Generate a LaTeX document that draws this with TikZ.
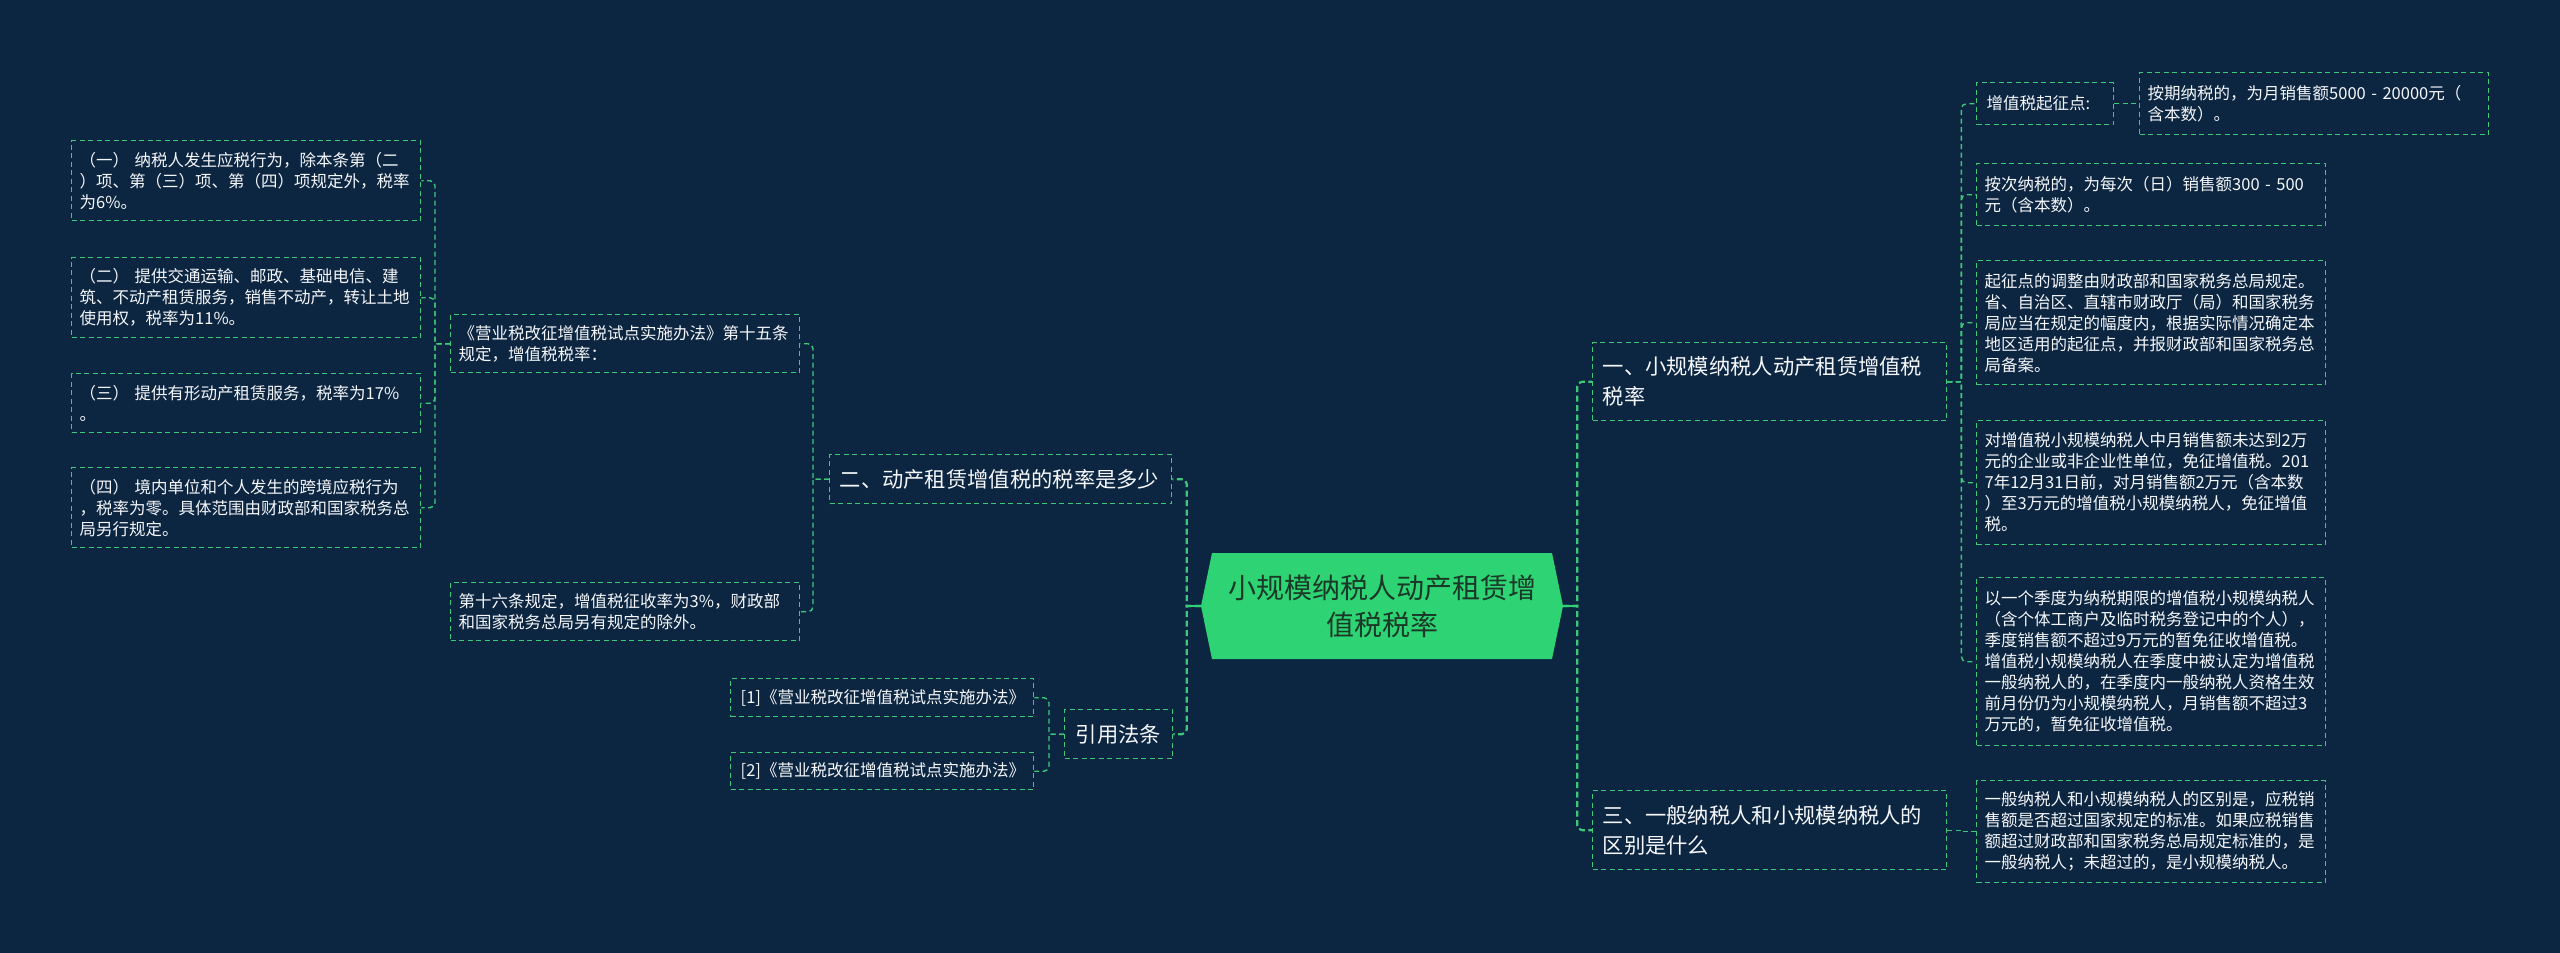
\documentclass[tikz,border=0pt]{standalone}
\usepackage{fontspec}
\setmainfont{Noto Sans CJK SC}
\definecolor{bgc}{RGB}{12,37,64}
\definecolor{lgc}{RGB}{62,200,122}
\definecolor{cgc}{RGB}{46,212,115}
\definecolor{ctc}{RGB}{26,56,40}
\definecolor{wtc}{RGB}{245,247,250}
\tikzset{
 box/.style={draw=lgc, line width=1.4pt, dash pattern=on 5pt off 3.5pt, text=wtc, inner ysep=0pt, align=left, anchor=north west},
 small/.style={box, font=\fontsize{16.5}{21}\selectfont},
 big/.style={box, font=\fontsize{21.3}{30}\selectfont},
 conn/.style={draw=lgc, line width=1.4pt, dash pattern=on 5pt off 3.5pt},
 connA/.style={draw=lgc, line width=2.2pt, dash pattern=on 6pt off 3.5pt},
 stubA/.style={draw=cgc, line width=2.2pt},
}
\newcommand\mkbox[8]{%
 \pgfmathsetmacro\mytw{#4-#2-2*#7}\pgfmathsetmacro\mybh{#5-#3}%
 \node[#6, inner xsep=#7pt, text width=\mytw pt, minimum height=\mybh pt] (#1) at (#2,#3) {#8};}
\begin{document}
\begin{tikzpicture}[x=1pt,y=-1pt]
\useasboundingbox (0,0) rectangle (2560,953);
\fill[bgc] (0,0) rectangle (2560,953);
% central
\fill[cgc] (1201,606) -- (1212,553) -- (1552,553) -- (1563,606) -- (1552,659) -- (1212,659) -- cycle;
\node[text=ctc, font=\fontsize{28}{37}\selectfont, align=center, minimum width=362pt, minimum height=106pt, inner sep=0pt] (ctr) at (1382,606) {小规模纳税人动产租赁增\\值税税率};
% left side
\mkbox{a1}{71}{140}{420}{220}{small}{8}{（一） 纳税人发生应税行为，除本条第（二\\）项、第（三）项、第（四）项规定外，税率\\为6\%。}
\mkbox{a2}{71}{257}{420}{337}{small}{8}{（二） 提供交通运输、邮政、基础电信、建\\筑、不动产租赁服务，销售不动产，转让土地\\使用权，税率为11\%。}
\mkbox{a3}{71}{373}{420}{432}{small}{8}{（三） 提供有形动产租赁服务，税率为17\%\\。}
\mkbox{a4}{71}{467}{420}{547}{small}{8}{（四） 境内单位和个人发生的跨境应税行为\\，税率为零。具体范围由财政部和国家税务总\\局另行规定。}
\mkbox{b1}{450}{314}{799}{372}{small}{8}{《营业税改征增值税试点实施办法》第十五条\\规定，增值税税率：}
\mkbox{b2}{450}{582}{799}{640}{small}{8}{第十六条规定，增值税征收率为3\%，财政部\\和国家税务总局另有规定的除外。}
\mkbox{c2}{829}{454}{1171}{503}{big}{10}{二、动产租赁增值税的税率是多少}
\mkbox{c3}{1064}{709}{1172}{758}{big}{11}{引用法条}
\mkbox{d1}{730}{678}{1033}{716}{small}{10}{[1]《营业税改征增值税试点实施办法》}
\mkbox{d2}{730}{752}{1033}{789}{small}{10}{[2]《营业税改征增值税试点实施办法》}
% right side
\mkbox{r1}{1592}{342}{1946}{420}{big}{10}{一、小规模纳税人动产租赁增值税\\税率}
\mkbox{r3}{1592}{790}{1946}{869}{big}{10}{三、一般纳税人和小规模纳税人的\\区别是什么}
\mkbox{e1}{1976}{82}{2113}{124}{small}{10}{增值税起征点:}
\mkbox{e1a}{2139}{72}{2488}{134}{small}{8}{按期纳税的，为月销售额5000 - 20000元（\\含本数）。}
\mkbox{e2}{1976}{163}{2325}{225}{small}{8}{按次纳税的，为每次（日）销售额300 - 500\\元（含本数）。}
\mkbox{e3}{1976}{260}{2325}{384}{small}{8}{起征点的调整由财政部和国家税务总局规定。\\省、自治区、直辖市财政厅（局）和国家税务\\局应当在规定的幅度内，根据实际情况确定本\\地区适用的起征点，并报财政部和国家税务总\\局备案。}
\mkbox{e4}{1976}{420}{2325}{544}{small}{8}{对增值税小规模纳税人中月销售额未达到2万\\元的企业或非企业性单位，免征增值税。201\\7年12月31日前，对月销售额2万元（含本数\\）至3万元的增值税小规模纳税人，免征增值\\税。}
\mkbox{e5}{1976}{577}{2325}{745}{small}{8}{以一个季度为纳税期限的增值税小规模纳税人\\（含个体工商户及临时税务登记中的个人），\\季度销售额不超过9万元的暂免征收增值税。\\增值税小规模纳税人在季度中被认定为增值税\\一般纳税人的，在季度内一般纳税人资格生效\\前月份仍为小规模纳税人，月销售额不超过3\\万元的，暂免征收增值税。}
\mkbox{f1}{1976}{780}{2325}{882}{small}{8}{一般纳税人和小规模纳税人的区别是，应税销\\售额是否超过国家规定的标准。如果应税销售\\额超过财政部和国家税务总局规定标准的，是\\一般纳税人；未超过的，是小规模纳税人。}
% connectors
\foreach \c in {c2,c3} \draw[connA] (ctr.west) -- ++(-14,0) [rounded corners=5pt] |- (\c.east);
\foreach \c in {r1,r3} \draw[connA] (ctr.east) -- ++(14,0) [rounded corners=5pt] |- (\c.west);
\draw[stubA] (ctr.west) -- ++(-14,0);
\draw[stubA] (ctr.east) -- ++(14,0);
\foreach \c in {b1,b2} \draw[conn] (c2.west) -- ++(-16,0) [rounded corners=5pt] |- (\c.east);
\foreach \c in {a1,a2,a3,a4} \draw[conn] (b1.west) -- ++(-15,0) [rounded corners=5pt] |- (\c.east);
\foreach \c in {d1,d2} \draw[conn] (c3.west) -- ++(-15,0) [rounded corners=5pt] |- (\c.east);
\foreach \c in {e1,e2,e3,e4,e5} \draw[conn] (r1.east) -- ++(14,0) [rounded corners=5pt] |- (\c.west);
\draw[conn] (e1.east) -- ++(13,0) |- (e1a.west);
\draw[conn] (r3.east) -- ++(15,0) |- (f1.west);
\end{tikzpicture}
\end{document}
